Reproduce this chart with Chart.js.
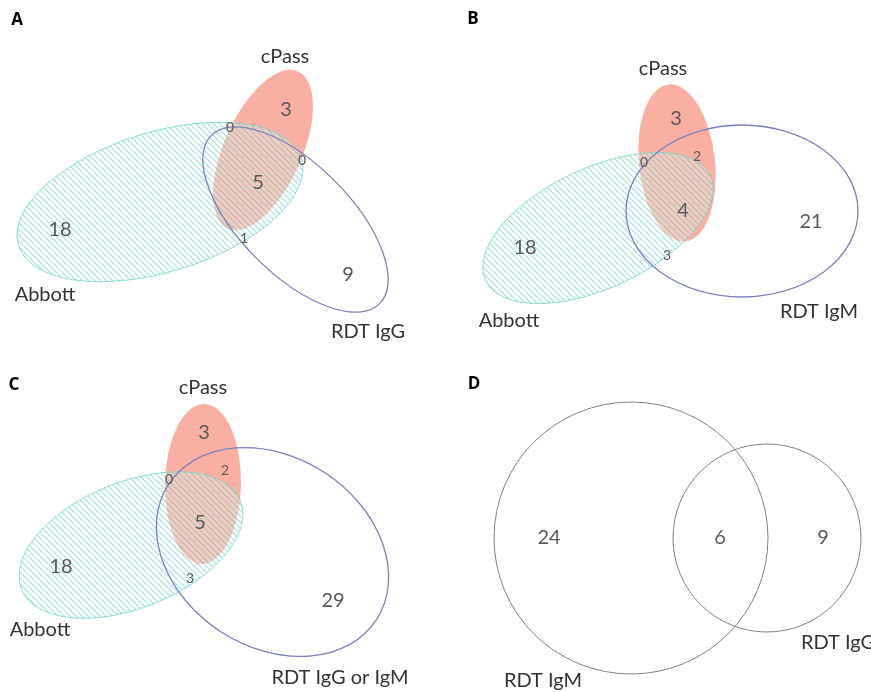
<!DOCTYPE html>
<html>
<head>
<meta charset="utf-8">
<script src="https://cdn.jsdelivr.net/npm/chart.js@4.4.1/dist/chart.umd.min.js"></script>
<style>
  html, body { margin: 0; padding: 0; background: #fff; }
  #wrap { width: 871px; height: 692px; }
</style>
</head>
<body>
<div id="wrap"><canvas id="venn"></canvas></div>
<script>
// ---- Data ----
const panelLetters = ["A", "B", "C", "D"];

// set names, one list per panel
const setsA = ["Abbott", "cPass", "RDT IgG"];
const setsB = ["Abbott", "cPass", "RDT IgM"];
const setsC = ["Abbott", "cPass", "RDT IgG or IgM"];
const setsD = ["RDT IgM", "RDT IgG"];

// region counts: Abbott only, cPass only, RDT only, Abbott+cPass, cPass+RDT, Abbott+RDT, all three
const countsA = [18, 3, 9, 0, 0, 1, 5];
const countsB = [18, 3, 21, 0, 2, 3, 4];
const countsC = [18, 3, 29, 0, 2, 3, 5];
// RDT IgM only, both, RDT IgG only
const countsD = [24, 6, 9];

// ---- Layout (page units, y downwards) ----
// ellipses: [cx, cy, rx, ry, rotation deg]
const shapesA = [[160, 202, 148, 70, -17], [263, 150, 39, 86, 24], [295.5, 219.5, 119, 55, 45]];
const shapesB = [[598, 228, 124, 60, -25], [677, 163, 38, 79, -6], [742, 211, 116, 86, 0]];
const shapesC = [[131, 545, 118, 63, -22], [203, 484, 38, 80, 1], [272.5, 552, 124, 95, 33]];
const shapesD = [[631, 538, 137, 136, 0], [767, 538, 94, 94, 0]];

// where each count sits, and whether it is printed small
const spotsA = [[60, 230], [286, 110], [348, 275], [230, 127], [302, 160], [244, 238], [258, 183]];
const spotsB = [[525, 248], [676, 119], [811, 222], [644, 162], [697, 156], [667, 255], [683, 211]];
const spotsC = [[61, 567], [204, 433], [333, 601], [169, 479], [225, 470], [190, 578], [200, 523]];
const spotsD = [[549, 538], [720, 538], [823, 538]];
const smallA = [false, false, false, true, true, true, false];
const smallB = [false, false, false, true, true, true, false];
const smallC = [false, false, false, true, true, true, false];
const smallD = [false, false, false];

// set name label positions
const nameSpotsA = [[45, 295], [285, 57], [368, 332]];
const nameSpotsB = [[509, 321], [663, 69], [819, 312]];
const nameSpotsC = [[40, 630], [203, 388], [340, 678]];
const nameSpotsD = [[543, 681], [838, 643]];
const letterSpots = [[17, 20], [473, 19], [14, 385], [474, 384]];

const panels = [
  { sets: setsA, counts: countsA, shapes: shapesA, spots: spotsA, small: smallA, names: nameSpotsA },
  { sets: setsB, counts: countsB, shapes: shapesB, spots: spotsB, small: smallB, names: nameSpotsB },
  { sets: setsC, counts: countsC, shapes: shapesC, spots: spotsC, small: smallC, names: nameSpotsC },
  { sets: setsD, counts: countsD, shapes: shapesD, spots: spotsD, small: smallD, names: nameSpotsD }
];

// hatch pattern for Abbott
function makeHatch() {
  const c = document.createElement("canvas");
  c.width = 6; c.height = 6;
  const g = c.getContext("2d");
  g.strokeStyle = "rgba(80,200,185,0.55)";
  g.lineWidth = 1.1;
  g.beginPath();
  g.moveTo(-1, -1); g.lineTo(7, 7);
  g.moveTo(-1, 5); g.lineTo(1, 7);
  g.moveTo(5, -1); g.lineTo(7, 1);
  g.stroke();
  return g.createPattern(c, "repeat");
}

// draw an ellipse given in data units through the chart scales
function ellipsePath(chart, s) {
  const xs = chart.scales.x, ys = chart.scales.y;
  const cx = xs.getPixelForValue(s[0]);
  const cy = ys.getPixelForValue(s[1]);
  const rx = Math.abs(xs.getPixelForValue(s[0] + s[2]) - cx);
  const ry = Math.abs(ys.getPixelForValue(s[1] + s[3]) - cy);
  const ctx = chart.ctx;
  ctx.beginPath();
  ctx.ellipse(cx, cy, rx, ry, s[4] * Math.PI / 180, 0, Math.PI * 2);
}

const vennPlugin = {
  id: "venn",
  beforeDatasetsDraw(chart) {
    const ctx = chart.ctx;
    const hatch = makeHatch();
    ctx.save();
    panels.forEach(p => {
      if (p.shapes.length === 3) {
        // cPass
        ellipsePath(chart, p.shapes[1]);
        ctx.fillStyle = "#f9b0a3";
        ctx.fill();
        // Abbott
        ellipsePath(chart, p.shapes[0]);
        ctx.fillStyle = "rgba(255,255,255,0.3)";
        ctx.fill();
        ctx.fillStyle = hatch;
        ctx.fill();
        ctx.strokeStyle = "rgba(120,212,200,0.85)";
        ctx.lineWidth = 1;
        ctx.stroke();
        // RDT
        ellipsePath(chart, p.shapes[2]);
        ctx.strokeStyle = "#7b80bf";
        ctx.lineWidth = 1.3;
        ctx.stroke();
      } else {
        p.shapes.forEach(s => {
          ellipsePath(chart, s);
          ctx.strokeStyle = "#808080";
          ctx.lineWidth = 1;
          ctx.stroke();
        });
      }
    });
    ctx.restore();
  },
  afterDatasetsDraw(chart) {
    const ctx = chart.ctx;
    const xs = chart.scales.x, ys = chart.scales.y;
    ctx.save();
    ctx.textAlign = "center";
    ctx.textBaseline = "middle";
    // counts, at the points Chart.js placed
    chart.data.datasets.forEach((ds, i) => {
      const meta = chart.getDatasetMeta(i);
      const p = panels[i];
      meta.data.forEach((pt, j) => {
        ctx.font = p.small[j] ? "14px Lato" : "20px Lato";
        ctx.fillStyle = "#595959";
        ctx.fillText(String(p.counts[j]), pt.x, pt.y);
      });
      // set names
      ctx.font = "20px Lato";
      ctx.fillStyle = "#333333";
      p.sets.forEach((name, k) => {
        ctx.fillText(name, xs.getPixelForValue(p.names[k][0]), ys.getPixelForValue(p.names[k][1]));
      });
    });
    // panel letters
    ctx.font = "bold 17px 'Open Sans'";
    ctx.fillStyle = "#000";
    panelLetters.forEach((l, i) => {
      ctx.fillText(l, xs.getPixelForValue(letterSpots[i][0]), ys.getPixelForValue(letterSpots[i][1]));
    });
    ctx.restore();
  }
};

new Chart(document.getElementById("venn"), {
  type: "scatter",
  data: {
    datasets: panels.map((p, i) => ({
      label: panelLetters[i],
      data: p.spots.map(s => ({ x: s[0], y: s[1] })),
      pointRadius: 0,
      pointHoverRadius: 0
    }))
  },
  options: {
    responsive: true,
    maintainAspectRatio: false,
    animation: false,
    layout: { padding: 0 },
    plugins: { legend: { display: false }, tooltip: { enabled: false } },
    scales: {
      x: { type: "linear", min: 0, max: 871, display: false },
      y: { type: "linear", min: 0, max: 692, reverse: true, display: false }
    }
  },
  plugins: [vennPlugin]
});
</script>
</body>
</html>
